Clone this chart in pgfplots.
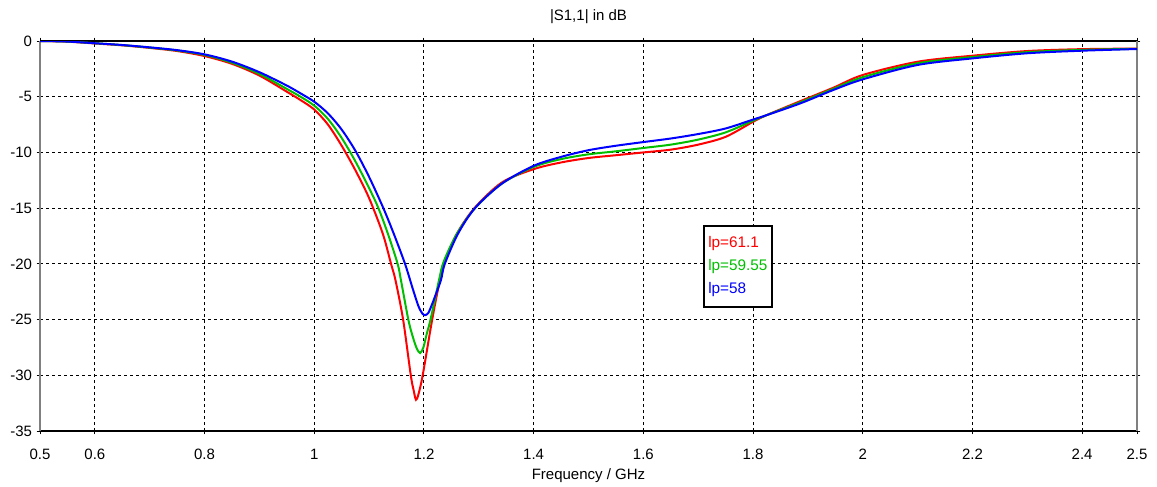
\documentclass[border=0pt]{standalone}
\usepackage{fontspec}
\setmainfont{Liberation Sans}
\usepackage{pgfplots}
\pgfplotsset{compat=1.18}

\definecolor{cstred}{RGB}{255,0,0}
\definecolor{cstgreen}{RGB}{0,190,0}
\definecolor{cstblue}{RGB}{0,0,255}

\begin{document}
\begin{tikzpicture}
\begin{axis}[
  scale only axis,
  width=822.75pt, height=292.5pt,
  xmin=0.5, xmax=2.5, ymin=-35, ymax=0,
  xtick={0.5,0.6,0.8,1,1.2,1.4,1.6,1.8,2,2.2,2.4,2.5},
  ytick={-35,-30,-25,-20,-15,-10,-5,0},
  font=\fontsize{11.25}{13}\selectfont,
  /pgf/number format/assume math mode=true,
  tick align=outside, major tick length=2.5pt,
  tick style={black, line width=0.75pt},
  xticklabel style={yshift=-7.5pt},
  grid=major,
  major grid style={black, line width=0.75pt, dash pattern=on 2.25pt off 2.25pt},
  separate axis lines,
  every outer x axis line/.append style={black, line width=1pt},
  every outer y axis line/.append style={gray, line width=1pt},
  title={|S1,1| in dB},
  title style={at={(0.5,1)}, anchor=center, yshift=12pt},
  xlabel={Frequency / GHz},
  xlabel style={at={(0.5,0)}, anchor=center, yshift=-33.75pt},
  legend image code/.code={},
  legend cell align=left,
  legend style={at={(0.604,0.529)}, anchor=north west, draw=black,
    line width=1.5pt, inner xsep=1.5pt, inner ysep=6pt,
    row sep=3.6pt, font=\fontsize{11.5}{13}\selectfont},
  every axis plot/.append style={line width=1.5pt, smooth, tension=0.5},
]
% lp = 61.1
\addplot[cstred] coordinates {
(0.5,0) (0.55,-0.06) (0.6,-0.22) (0.65,-0.39) (0.7,-0.62) (0.75,-0.9)
(0.8,-1.35) (0.85,-2.05) (0.9,-3.1) (0.95,-4.55) (0.975,-5.3) (1.0,-6.15)
(1.025,-7.5) (1.05,-9.4) (1.075,-11.6) (1.1,-14.1) (1.125,-17.3)
(1.14,-20) (1.148,-21.45)
(1.162,-25) (1.176,-30) (1.181,-31.3) (1.1855,-32.2) (1.19,-31.7)
(1.1977,-30) (1.215,-25) (1.229,-21.45) (1.236,-20) (1.26,-17.3)
(1.292,-15) (1.342,-12.7) (1.4,-11.5) (1.45,-10.9) (1.5,-10.5)
(1.55,-10.25) (1.6,-10.0) (1.65,-9.75) (1.7,-9.3) (1.75,-8.6) (1.8,-7.25)
(1.825,-6.65) (1.886,-5.4) (1.946,-4.2) (2.0,-3.05) (2.1,-1.86)
(2.2,-1.32) (2.3,-0.9) (2.4,-0.73) (2.5,-0.68)
};
\addlegendentry{\textcolor{cstred}{lp=61.1}}
% lp = 59.55
\addplot[cstgreen] coordinates {
(0.5,0) (0.55,-0.05) (0.6,-0.2) (0.65,-0.37) (0.7,-0.59) (0.75,-0.85)
(0.8,-1.25) (0.85,-1.95) (0.9,-2.95) (0.95,-4.3) (0.975,-5.0) (1.0,-5.8)
(1.025,-7.0) (1.05,-8.7) (1.075,-10.8) (1.1,-13.2) (1.117,-15)
(1.135,-17.4) (1.152,-20)
(1.158,-21.45) (1.1715,-25) (1.18,-26.6) (1.187,-27.6) (1.193,-28.0)
(1.199,-27.5) (1.205,-26.3) (1.212,-25) (1.2275,-21.45) (1.236,-19.8)
(1.26,-17.3) (1.293,-15) (1.342,-12.8) (1.4,-11.3) (1.45,-10.6)
(1.5,-10.17) (1.55,-9.9) (1.6,-9.6) (1.65,-9.3) (1.7,-8.85) (1.75,-8.2)
(1.8,-7.15) (1.825,-6.65) (1.886,-5.5) (1.946,-4.3) (2.0,-3.25)
(2.1,-2.0) (2.2,-1.44) (2.3,-1.0) (2.4,-0.8) (2.5,-0.7)
};
\addlegendentry{\textcolor{cstgreen}{lp=59.55}}
% lp = 58
\addplot[cstblue] coordinates {
(0.5,0) (0.55,-0.05) (0.6,-0.2) (0.65,-0.36) (0.7,-0.57) (0.75,-0.82)
(0.8,-1.2) (0.85,-1.85) (0.9,-2.8) (0.95,-4.0) (0.975,-4.7) (1.0,-5.45)
(1.025,-6.5) (1.05,-7.95) (1.075,-9.85) (1.1,-12.2) (1.126,-15)
(1.145,-17.3) (1.1655,-20)
(1.18,-22.3) (1.19,-23.8) (1.197,-24.45) (1.202,-24.6) (1.208,-24.4)
(1.215,-23.6) (1.22,-22.95) (1.231,-21.45) (1.238,-20) (1.262,-17.3)
(1.293,-15) (1.342,-12.8) (1.4,-11.2) (1.45,-10.4) (1.5,-9.8)
(1.55,-9.4) (1.6,-9.07) (1.65,-8.75) (1.7,-8.35) (1.75,-7.85) (1.8,-7.05)
(1.825,-6.65) (1.886,-5.6) (1.946,-4.4) (2.0,-3.44) (2.1,-2.15)
(2.2,-1.56) (2.3,-1.1) (2.4,-0.87) (2.5,-0.72)
};
\addlegendentry{\textcolor{cstblue}{lp=58}}
\coordinate (bl) at (rel axis cs:0,0);
\coordinate (tr) at (rel axis cs:1,1);
\end{axis}
\pgfresetboundingbox
\path ([shift={(-30pt,-41.25pt)}]bl) rectangle ([shift={(15pt,30.75pt)}]tr);
\end{tikzpicture}
\end{document}
